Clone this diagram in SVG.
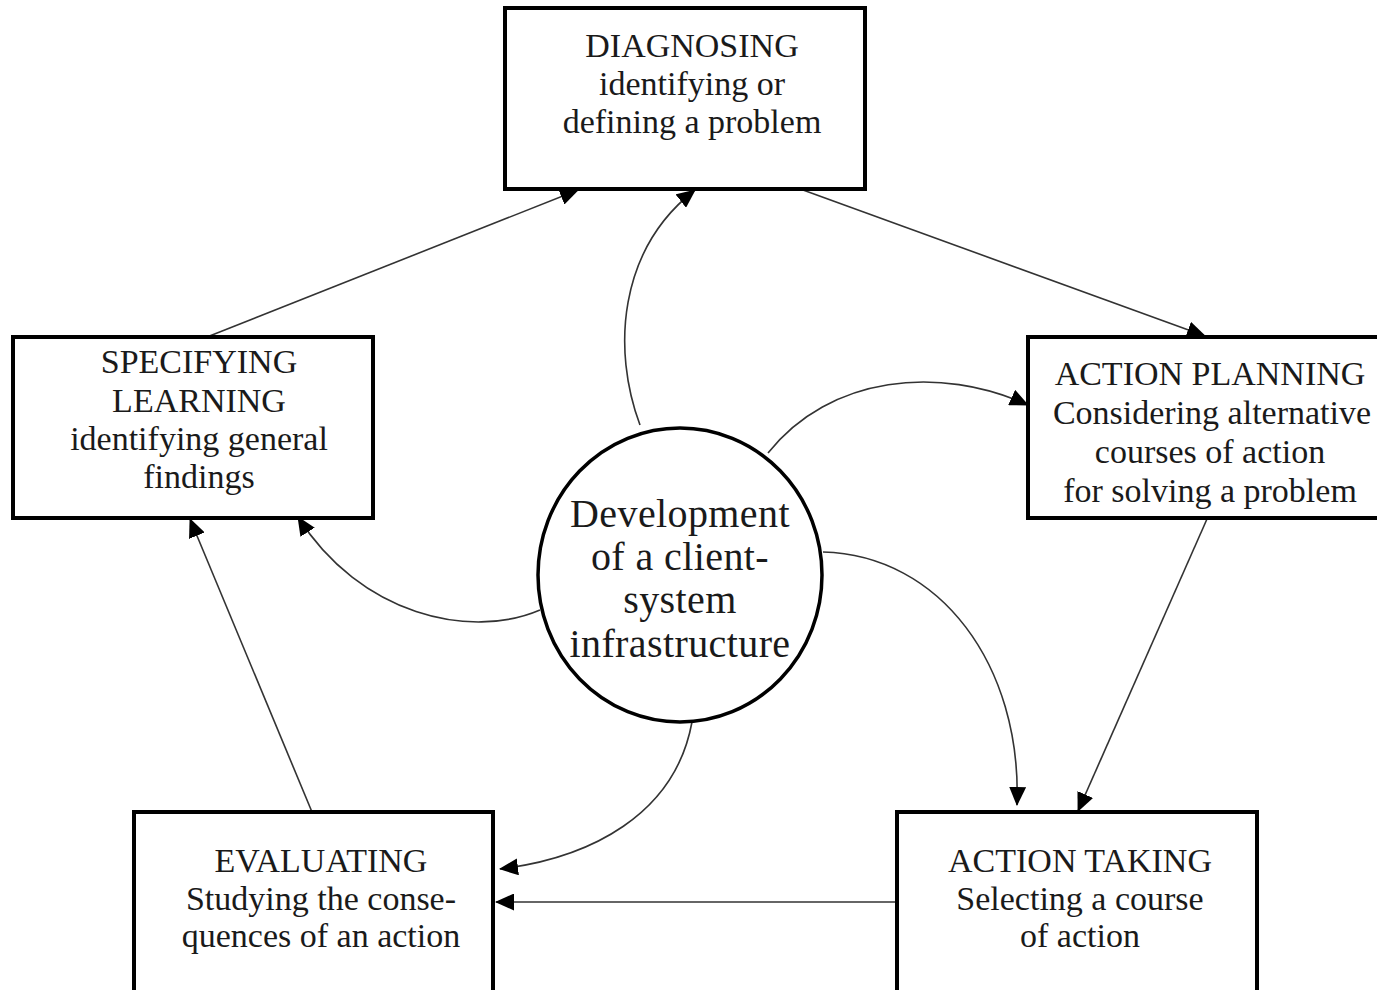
<svg xmlns="http://www.w3.org/2000/svg" width="1377" height="990" viewBox="0 0 1377 990">
<style>
.box{fill:#fff;stroke:#000;stroke-width:4}
.circ{fill:#fff;stroke:#000;stroke-width:3.5}
.t{font-family:"Liberation Serif","Times New Roman",serif;font-size:34px;fill:#1a1a1a;text-anchor:middle}
.tc{font-family:"Liberation Serif","Times New Roman",serif;font-size:40px;fill:#1a1a1a;text-anchor:middle;letter-spacing:0.4px}
.c{fill:none;stroke:#333;stroke-width:1.6;marker-end:url(#ah)}
</style>
<defs>
<marker id="ah" markerUnits="userSpaceOnUse" markerWidth="19" markerHeight="17" viewBox="0 0 19 17" refX="18" refY="8.5" orient="auto">
<path d="M0,0 L19,8.5 L0,17 z" fill="#000"/>
</marker>
</defs>
<rect width="1377" height="990" fill="#fff"/>
<g id="connectors">
<path class="c" d="M207,337 L578,190"/>
<path class="c" d="M803,190 L1205,336"/>
<path class="c" d="M1207,519 L1078,811"/>
<path class="c" d="M897,902 L496,902"/>
<path class="c" d="M312,812 L190,519"/>
<path class="c" d="M640,425 C612,350 618,250 695,190"/>
<path class="c" d="M768,453 C830,375 940,365 1028,405"/>
<path class="c" d="M540,610 C470,640 360,615 298,517"/>
<path class="c" d="M692,722 C675,815 590,858 500,869"/>
<path class="c" d="M823,552 C940,555 1022,665 1017,805"/>
</g>
<g id="diagnosing">
<rect class="box" x="505" y="8" width="360" height="181"/>
<text class="t" x="692" y="57">DIAGNOSING</text>
<text class="t" x="692" y="95">identifying or</text>
<text class="t" x="692" y="133">defining a problem</text>
</g>
<g id="specifying-learning">
<rect class="box" x="13" y="337" width="360" height="181"/>
<text class="t" x="199" y="373">SPECIFYING</text>
<text class="t" x="199" y="412">LEARNING</text>
<text class="t" x="199" y="450">identifying general</text>
<text class="t" x="199" y="488">findings</text>
</g>
<g id="action-planning">
<rect class="box" x="1028" y="337" width="362" height="181"/>
<text class="t" x="1210" y="385">ACTION PLANNING</text>
<text class="t" x="1212" y="424">Considering alternative</text>
<text class="t" x="1210" y="463">courses of action</text>
<text class="t" x="1210" y="502">for solving a problem</text>
</g>
<g id="evaluating">
<rect class="box" x="134" y="812" width="359" height="190"/>
<text class="t" x="321" y="872">EVALUATING</text>
<text class="t" x="321" y="910">Studying the conse-</text>
<text class="t" x="321" y="947">quences of an action</text>
</g>
<g id="action-taking">
<rect class="box" x="897" y="812" width="360" height="190"/>
<text class="t" x="1080" y="872">ACTION TAKING</text>
<text class="t" x="1080" y="910">Selecting a course</text>
<text class="t" x="1080" y="947">of action</text>
</g>
<g id="infrastructure">
<ellipse class="circ" cx="680" cy="575" rx="142" ry="147"/>
<text class="tc" x="680" y="527">Development</text>
<text class="tc" x="680" y="570">of a client-</text>
<text class="tc" x="680" y="613">system</text>
<text class="tc" x="680" y="657">infrastructure</text>
</g>
</svg>
